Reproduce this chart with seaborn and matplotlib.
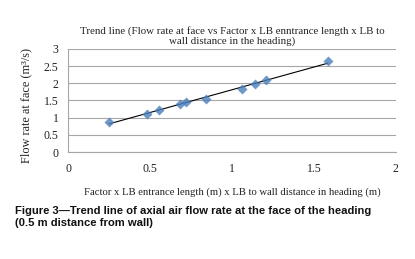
import numpy as np
import pandas as pd
import matplotlib
matplotlib.use("Agg")
import matplotlib.pyplot as plt
import seaborn as sns

# values
factor = [0.25, 0.48, 0.555, 0.68, 0.72, 0.84, 1.06, 1.14, 1.21, 1.585]
flow = [0.87, 1.11, 1.22, 1.40, 1.47, 1.54, 1.83, 1.97, 2.10, 2.65]
xticks = [0, 0.5, 1, 1.5, 2]
yticks = [0, 0.5, 1, 1.5, 2, 2.5, 3]
xtick_labels = ['0', '0.5', '1', '1.5', '2']
ytick_labels = ['0', '0.5', '1', '1.5', '2', '2.5', '3']

df = pd.DataFrame({'factor': factor, 'flow': flow})

sns.set_style('white')
plt.rcParams['font.family'] = ['Liberation Serif', 'DejaVu Serif']

fig = plt.figure(figsize=(4.15, 2.59), dpi=100)
ax = fig.add_axes([0.164, 0.413, 0.790, 0.398])

sns.regplot(data=df, x='factor', y='flow', ax=ax, ci=None, truncate=True, marker='D',
            scatter_kws={'s': 26, 'color': '#4a7ebb', 'zorder': 3, 'linewidths': 0},
            line_kws={'color': 'black', 'lw': 0.8, 'zorder': 2})

ax.set_xlim(0, 2)
ax.set_ylim(0, 3)
ax.set_xticks(xticks)
ax.set_xticklabels(xtick_labels)
ax.set_yticks(yticks)
ax.set_yticklabels(ytick_labels)
ax.yaxis.grid(True, color='#a6a6a6', lw=0.8)
ax.xaxis.grid(False)
ax.set_axisbelow(True)
for s in ['top', 'right']:
    ax.spines[s].set_visible(False)
for s in ['left', 'bottom']:
    ax.spines[s].set_color('#a6a6a6')
    ax.spines[s].set_linewidth(0.8)
ax.tick_params(axis='both', labelsize=8.5, colors='#a6a6a6', labelcolor='#222222')
ax.tick_params(axis='x', length=3, width=0.8, direction='out', pad=5)
ax.tick_params(axis='y', length=3, width=0.8, direction='out', pad=4)

ax.set_title('Trend line (Flow rate at face vs Factor x LB enntrance length x LB to\n'
             'wall distance in the heading)', fontsize=7.8, color='#222222',
             linespacing=1.05, pad=4)
ax.set_ylabel('Flow rate at face (m\u00b3/s)', fontsize=8.8, color='#222222')
ax.yaxis.set_label_coords(-0.11, 0.45)
ax.set_xlabel('Factor x LB entrance length (m) x LB to wall distance in heading (m)',
              fontsize=7.7, color='#222222', labelpad=9)

fig.text(0.036, 0.118, 'Figure 3\u2014Trend line of axial air flow rate at the face of the heading\n'
         '(0.5 m distance from wall)', fontsize=8.1, fontweight='bold',
         family=['Liberation Sans', 'DejaVu Sans'], color='#111111',
         linespacing=1.35, va='bottom', ha='left')

fig.savefig('out.png', dpi=100)
